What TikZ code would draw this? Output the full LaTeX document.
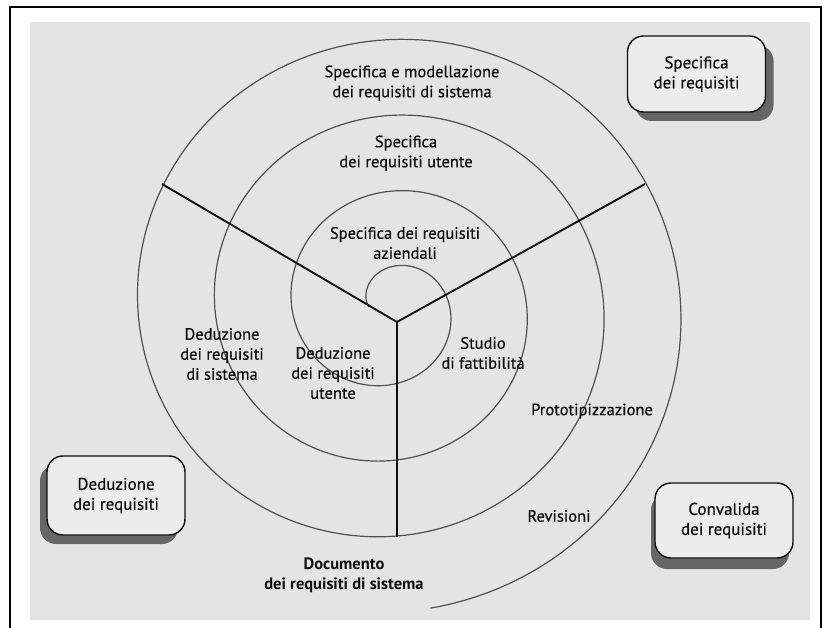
\documentclass[tikz,border=0pt]{standalone}
\usepackage{fontspec}
\setmainfont{PT Sans}
\newfontfamily\lblfont{PT Sans}[FakeBold=0.5]
\usetikzlibrary{shadows}
\definecolor{pagegray}{RGB}{228,228,228}
\definecolor{boxfill}{RGB}{236,236,236}
\definecolor{spiralcol}{RGB}{80,80,80}
\definecolor{inkcol}{RGB}{15,15,15}
\begin{document}
\begin{tikzpicture}[x=1pt,y=-1pt,
  lbl/.style={align=center,text=inkcol,font=\lblfont\fontsize{16.5}{20}\selectfont,inner sep=0pt},
  reqbox/.style={draw=inkcol,line width=1.4pt,rounded corners=16pt,fill=boxfill,
    minimum width=138pt,minimum height=77pt,align=center,text=inkcol,
    font=\lblfont\fontsize{17}{20}\selectfont},
  spiral/.style={draw=spiralcol,line width=1.2pt},
  spoke/.style={draw=inkcol,line width=1.9pt}]
\useasboundingbox (0,0) rectangle (830,628);
\fill[white] (0,0) rectangle (830,628);
\fill[pagegray] (30,22) rectangle (810,620);
\draw[line width=2pt] (10,628) -- (10,7) -- (821,7) -- (821,628);

% spiral
\draw[spiral] plot[variable=\t,domain=0:3.734,samples=600]
  ({390+(21.25+77*\t)*cos(180-360*\t)},{307-0.985*(21.25+77*\t)*sin(180-360*\t)});

% spokes
\coordinate (C) at (397,322);
\coordinate (UL) at (162,184);
\coordinate (UR) at (645,184);
\coordinate (B) at (397,537);
\draw[spoke] (UL) -- (C) -- (UR);
\draw[spoke] (C) -- (B);

% labels
\node[lbl] (t1) at (412,83) {Specifica e modellazione\\dei requisiti di sistema};
\node[lbl] (t2) at (406,153) {Specifica\\dei requisiti utente};
\node[lbl] (t3) at (405,243) {Specifica dei requisiti\\aziendali};
\node[lbl] (t4) at (222,354) {Deduzione\\dei requisiti\\di sistema};
\node[lbl] (t5) at (333,373) {Deduzione\\dei requisiti\\utente};
\node[lbl] (t6) at (483,353) {Studio\\di fattibilità};
\node[lbl] (t7) at (592,411) {Prototipizzazione};
\node[lbl] (t8) at (559,516) {Revisioni};
\node[lbl,font=\fontsize{16.5}{20}\selectfont\bfseries] (t9) at (344,575) {Documento\\dei requisiti di sistema};

% boxes
\node[reqbox,minimum height=76pt,drop shadow={shadow xshift=8pt,shadow yshift=-9pt,fill=black!60,opacity=1}] (b1) at (696.5,74) {Specifica\\dei requisiti};
\node[reqbox,minimum height=79pt,drop shadow={shadow xshift=-7pt,shadow yshift=-9pt,fill=black!60,opacity=1}] (b2) at (116,495.5) {Deduzione\\dei requisiti};
\node[reqbox,minimum height=75pt,drop shadow={shadow xshift=-4pt,shadow yshift=-11pt,fill=black!60,opacity=1}] (b3) at (724,520.5) {Convalida\\dei requisiti};
\end{tikzpicture}
\end{document}
